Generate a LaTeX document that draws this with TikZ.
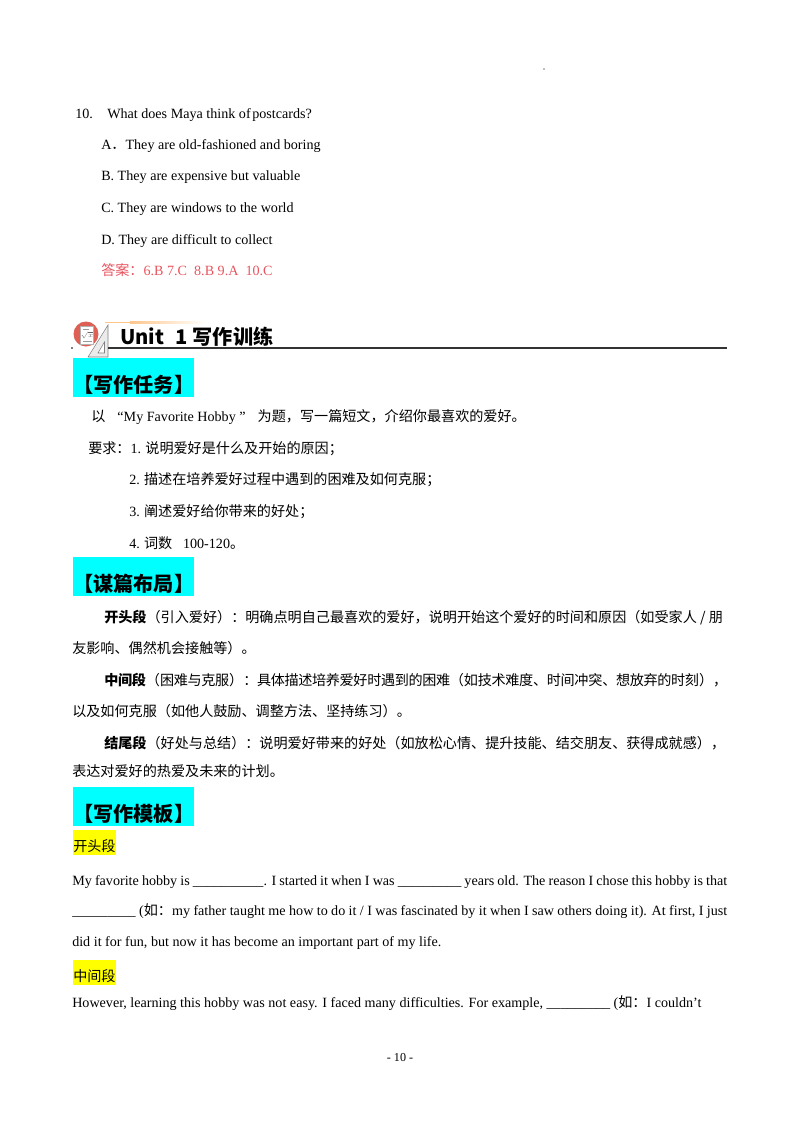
\documentclass[tikz,border=0pt]{standalone}
\usepackage{fontspec}
\setmainfont{Liberation Serif}
\newfontfamily\cjk{Noto Sans CJK SC}
\XeTeXlinebreaklocale "zh"
\XeTeXlinebreakskip=0pt plus 1pt minus 0.6pt
\usetikzlibrary{positioning}
\definecolor{answerred}{RGB}{232,84,94}
\definecolor{headcyan}{RGB}{0,255,255}
\definecolor{markyellow}{RGB}{255,255,0}
\definecolor{iconred}{RGB}{222,96,84}
\newcommand\spreadline[1]{\makebox[487.4pt][s]{#1}}

\begin{document}
\begin{tikzpicture}[x=0.7441pt, y=-0.7441pt,
  txt/.style={anchor=base west, inner sep=0pt, font=\fontsize{10.5}{12}\selectfont},
  cn/.style={txt, font=\cjk\fontsize{10.5}{12}\selectfont},
  fullcn/.style={cn, text width=463.6pt, align=justify},
  headbox/.style={anchor=north west, fill=headcyan, inner sep=0pt, text height=25.7pt, text depth=3.3pt, font=\cjk\bfseries\fontsize{15}{18}\selectfont},
  markbox/.style={anchor=north west, fill=markyellow, inner sep=0pt, text height=16pt, text depth=2.6pt, font=\cjk\fontsize{10.5}{12}\selectfont}]
  \useasboundingbox (0,0) rectangle (800,1132);

  \fill[black!25] (543,68) rectangle (545,70);

  \node[txt] (q10) at (75,118.5) {10.};
  \node[txt] (q10text) at (107,118.5) {What does Maya think of\hspace{1.2pt}postcards?};
  \node[txt] (optA) at (101,149.5) {A{\cjk ．}They are old-fashioned and boring};
  \node[txt] (optB) at (101,180.5) {B. They are expensive but valuable};
  \node[txt] (optC) at (101,212.5) {C. They are windows to the world};
  \node[txt] (optD) at (101,244.5) {D. They are difficult to collect};
  \node[txt, text=answerred] (answer) at (101,275.5) {{\cjk 答案：}6.B 7.C\ \ 8.B 9.A\ \ 10.C};

  \fill[orange!45] (105,321.5) rectangle (130,323);
  \shade[left color=orange!45, right color=white] (130,321.5) rectangle (205,323);
  \fill[iconred] (86,334) circle (12.5);
  \filldraw[fill=white, draw=black!30] (80.5,326) rectangle (93.5,344);
  \draw[black!40] (82.5,329) -- (89,329) (82.5,341.5) -- (91.5,341.5);
  \node[inner sep=0pt, font=\fontsize{4}{4}\selectfont, text=black!60] (sqrtx) at (87,335.5) {$\sqrt{x}$};
  \filldraw[fill=black!8, draw=black!50] (88,357) -- (108,357) -- (108,325) -- cycle;
  \filldraw[fill=white, draw=black!50] (98,353) -- (104.5,353) -- (104.5,342) -- cycle;
  \fill (72,348) circle (0.8);
  \draw[line width=1pt, black!80] (108,348) -- (727,348);
  \node[anchor=base west, inner sep=0pt, font=\cjk\bfseries\fontsize{15}{18}\selectfont] (title) at (120,344) {Unit\hspace{8pt}1\hspace{4pt}写作训练};

  \node[headbox] (task) at (73,358) {【写作任务】};
  \node[cn] (topic) at (91,421.5) {以\hspace{9pt}{\rmfamily “My Favorite Hobby ”}\hspace{9pt}为题，写一篇短文，介绍你最喜欢的爱好。};
  \node[cn] (req1) at (88,453.5) {要求：{\rmfamily 1.} 说明爱好是什么及开始的原因；};
  \node[cn] (req2) at (129,484.5) {{\rmfamily 2.} 描述在培养爱好过程中遇到的困难及如何克服；};
  \node[cn] (req3) at (129,516.5) {{\rmfamily 3.} 阐述爱好给你带来的好处；};
  \node[cn] (req4) at (129,548.5) {{\rmfamily 4.} 词数\hspace{8pt}{\rmfamily 100-120}。};

  \node[headbox] (layout) at (73,557) {【谋篇布局】};
  \node[fullcn] (open1) at (104,622) {\tolerance=9999 \parfillskip=0pt {\bfseries 开头段}（引入爱好）：明确点明自己最喜欢的爱好，说明开始这个爱好的时间和原因（如受家人 / 朋};
  \node[cn] (open2) at (72,653) {友影响、偶然机会接触等）。};
  \node[fullcn] (mid1) at (104,685) {\tolerance=9999 \parfillskip=0pt {\bfseries 中间段}（困难与克服）：具体描述培养爱好时遇到的困难（如技术难度、时间冲突、想放弃的时刻），};
  \node[cn] (mid2) at (72,716) {以及如何克服（如他人鼓励、调整方法、坚持练习）。};
  \node[cn] (end1) at (104,748) {{\bfseries 结尾段}（好处与总结）：说明爱好带来的好处（如放松心情、提升技能、结交朋友、获得成就感），};
  \node[cn] (end2) at (72,776) {表达对爱好的热爱及未来的计划。};

  \node[headbox] (model) at (73,787) {【写作模板】};
  \node[markbox] (markopen) at (73,830) {开头段};
  \node[txt] (tpl1) at (72,885.5) {\spreadline{My favorite hobby is \_\_\_\_\_\_\_\_\_\_. I started it when I was \_\_\_\_\_\_\_\_\_ years old. The reason I chose this hobby is that}};
  \node[txt] (tpl2) at (72,915.5) {\spreadline{\_\_\_\_\_\_\_\_\_ ({\cjk 如：}my father taught me how to do it / I was fascinated by it when I saw others doing it). At first, I just}};
  \node[txt] (tpl3) at (72,946.5) {did it for fun, but now it has become an important part of my life.};
  \node[markbox] (markmid) at (73,960) {中间段};
  \node[txt] (tpl4) at (72,1007.5) {However, learning this hobby was not easy. I faced many difficulties. For example, \_\_\_\_\_\_\_\_\_ ({\cjk 如：}I couldn't};

  \node[anchor=base, inner sep=0pt, font=\fontsize{9}{10}\selectfont] (pageno) at (400,1061) {- 10 -};
\end{tikzpicture}
\end{document}
